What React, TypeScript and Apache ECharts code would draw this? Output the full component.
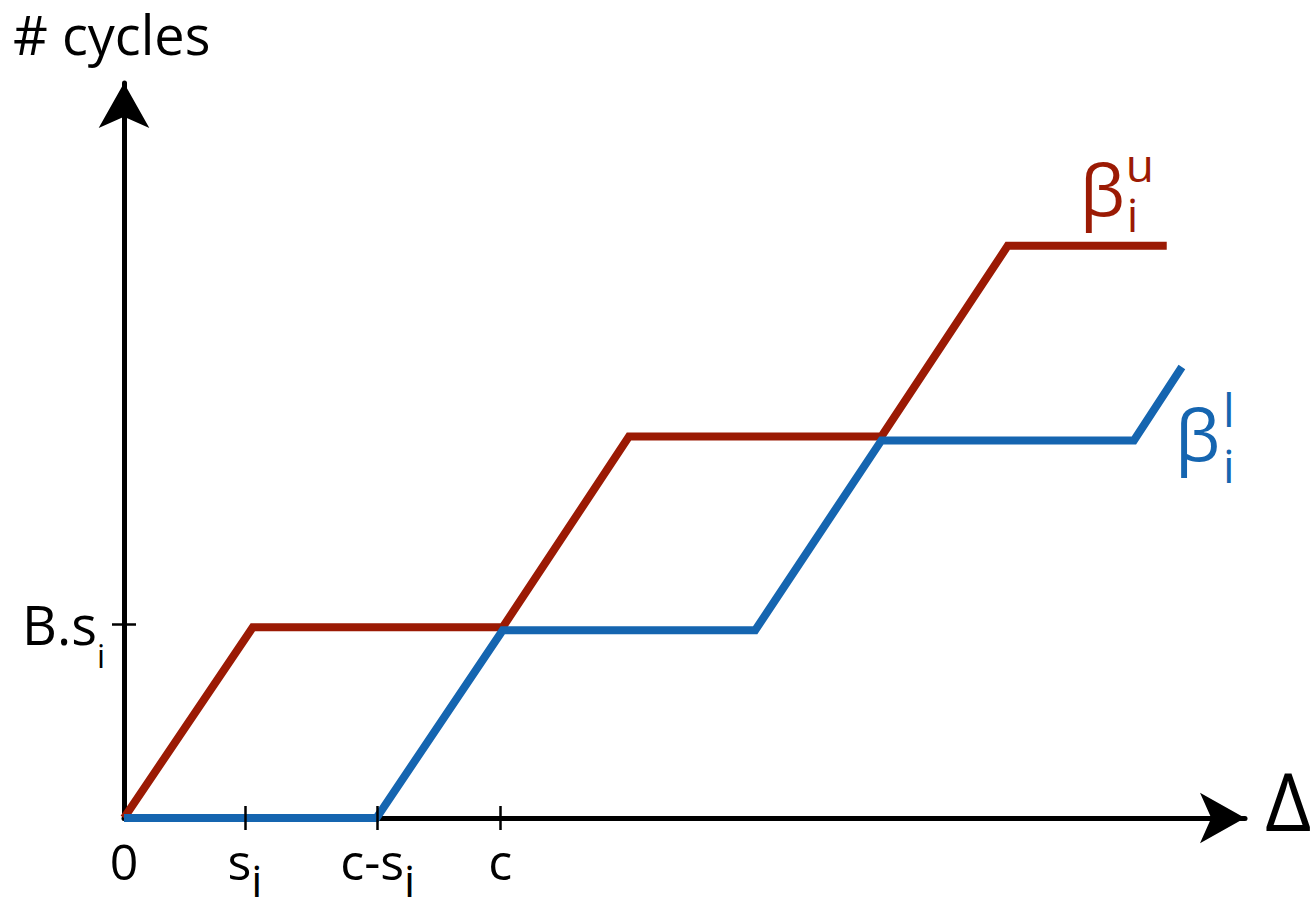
import React, { useEffect, useRef } from 'react';
import * as echarts from 'echarts';

// Upper bound curve (red) and lower bound curve (blue), in axis units
const upperBound: number[][] = [[0, 0], [1.02, 1], [3.0, 1], [4.0, 2], [6.0, 2], [7.0, 3], [8.26, 3]];
const lowerBound: number[][] = [[0, 0], [2.0, 0], [3.0, 0.985], [5.0, 0.985], [6.0, 1.98], [8.0, 1.98], [8.38, 2.365]];

// Tick values and labels (main text + subscript)
const xLabelValues = [0, 0.958, 2.01, 2.98];
const xTickValues = [0.958, 2.01, 2.98];
const xLabelMain = ['0', 's', 'c-s', 'c'];
const xLabelSub = ['', 'i', 'i', ''];
const yTickValues = [1.015];
const yLabelMain = ['B.s'];
const yLabelSub = ['i'];

const xMax = 8.88;
const yMax = 3.854;

const FONT = 'Open Sans';
const RED = '#9B1A04';
const BLUE = '#1565B0';

function pick(values: number[], v: number) {
  let best = 0;
  for (let i = 0; i < values.length; i++) {
    if (Math.abs(values[i] - v) < Math.abs(values[best] - v)) best = i;
  }
  return best;
}

export default function App() {
  const ref = useRef<HTMLDivElement>(null);
  useEffect(() => {
    if (!ref.current) return;
    const chart = echarts.init(ref.current, null, { renderer: 'svg' });
    const tickLine = { color: '#000', width: 2.5 };
    const axisLineStyle = { color: '#000', width: 5 };
    const option: any = {
      animation: false,
      backgroundColor: '#fff',
      title: {
        text: '# cycles',
        left: 13,
        top: 7,
        padding: 0,
        textStyle: { fontFamily: FONT, fontSize: 54, fontWeight: 'normal', color: '#000' },
      },
      grid: { left: 124, right: 71, top: 83, bottom: 86, containLabel: false, outerBoundsMode: 'none' },
      xAxis: [
        {
          type: 'value', min: 0, max: xMax, position: 'bottom',
          axisLine: { show: true, symbol: ['none', 'arrow'], symbolSize: [38, 45], lineStyle: axisLineStyle },
          axisTick: { show: false },
          splitLine: { show: false },
          axisLabel: {
            show: true,
            customValues: xLabelValues,
            margin: 18,
            formatter: (v: number) => {
              const i = pick(xLabelValues, v);
              return `{m|${xLabelMain[i]}}` + (xLabelSub[i] ? `{s|${xLabelSub[i]}}` : '');
            },
            rich: {
              m: { fontFamily: FONT, fontSize: 50, lineHeight: 50, verticalAlign: 'top', color: '#000' },
              s: { fontFamily: FONT, fontSize: 44, lineHeight: 50, verticalAlign: 'top', color: '#000', padding: [22, 0, 0, 0] },
            },
          },
        },
        {
          type: 'value', min: 0, max: xMax, position: 'bottom', z: 5,
          axisLine: { show: false },
          axisTick: { show: true, customValues: xTickValues, length: 12, lineStyle: tickLine },
          axisLabel: { show: false },
          splitLine: { show: false },
        },
        {
          type: 'value', min: 0, max: xMax, position: 'bottom', z: 5,
          axisLine: { show: false },
          axisTick: { show: true, inside: true, customValues: xTickValues, length: 12, lineStyle: tickLine },
          axisLabel: { show: false },
          splitLine: { show: false },
        },
      ],
      yAxis: [
        {
          type: 'value', min: 0, max: yMax, position: 'left',
          axisLine: { show: true, symbol: ['none', 'arrow'], symbolSize: [38, 45], lineStyle: axisLineStyle },
          axisTick: { show: true, customValues: yTickValues, length: 12, lineStyle: tickLine },
          splitLine: { show: false },
          axisLabel: {
            show: true,
            customValues: yTickValues,
            margin: 19,
            formatter: (v: number) => {
              const i = pick(yTickValues, v);
              return `{m|${yLabelMain[i]}}{s|${yLabelSub[i]}}`;
            },
            rich: {
              m: { fontFamily: FONT, fontSize: 54, lineHeight: 54, verticalAlign: 'top', color: '#000' },
              s: { fontFamily: FONT, fontSize: 32, lineHeight: 54, verticalAlign: 'top', color: '#000', padding: [42, 0, 0, 0] },
            },
          },
        },
        {
          type: 'value', min: 0, max: yMax, position: 'left', z: 5,
          axisLine: { show: false },
          axisTick: { show: true, inside: true, customValues: yTickValues, length: 12, lineStyle: tickLine },
          axisLabel: { show: false },
          splitLine: { show: false },
        },
      ],
      series: [
        {
          name: 'upper', type: 'line', xAxisIndex: 0, yAxisIndex: 0, data: upperBound,
          showSymbol: false, symbol: 'none',
          lineStyle: { color: RED, width: 8, join: 'miter', cap: 'butt' },
        },
        {
          name: 'lower', type: 'line', xAxisIndex: 0, yAxisIndex: 0, data: lowerBound,
          showSymbol: false, symbol: 'none',
          lineStyle: { color: BLUE, width: 8, join: 'miter', cap: 'butt' },
        },
      ],
    };
    chart.setOption(option);

    const r = chart.convertToPixel({ xAxisIndex: 0, yAxisIndex: 0 }, upperBound[upperBound.length - 1]) as number[];
    const b = chart.convertToPixel({ xAxisIndex: 0, yAxisIndex: 0 }, lowerBound[lowerBound.length - 1]) as number[];
    const e = chart.convertToPixel({ xAxisIndex: 0, yAxisIndex: 0 }, [xMax, 0]) as number[];
    const txt = (text: string, x: number, y: number, size: number, fill: string) => ({
      type: 'text', x, y, silent: true,
      style: { text, fontFamily: FONT, fontSize: size, fill, align: 'left', verticalAlign: 'middle' },
    });
    chart.setOption({
      graphic: [
        txt('Δ', e[0] + 20, e[1] - 19, 80, '#000'),
        txt('β', r[0] - 87, r[1] - 58, 72, RED),
        txt('u', r[0] - 41, r[1] - 82, 46, RED),
        txt('i', r[0] - 40, r[1] - 32, 46, RED),
        txt('β', b[0] - 7, b[1] + 66, 72, BLUE),
        txt('l', b[0] + 41, b[1] + 42, 46, BLUE),
        txt('i', b[0] + 41, b[1] + 98, 46, BLUE),
      ],
    });
    return () => chart.dispose();
  }, []);
  return (
    <div
      ref={ref}
      style={{ position: 'fixed', left: 0, top: 0, width: 1316, height: 904, background: '#fff' }}
    />
  );
}
